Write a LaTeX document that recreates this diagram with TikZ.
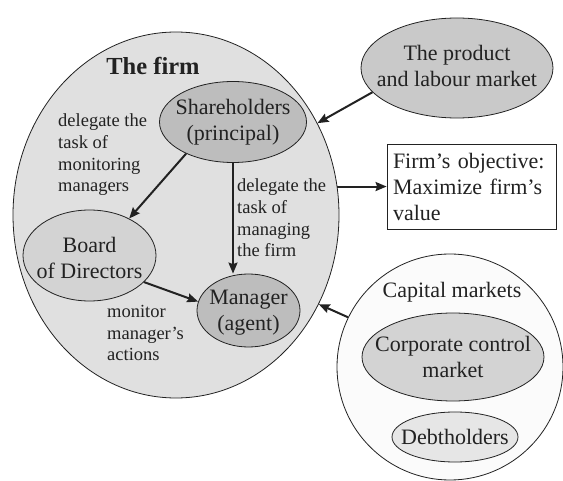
\documentclass[tikz,border=0pt]{standalone}
\usepackage{fontspec}
\setmainfont{Liberation Serif}
\usetikzlibrary{shapes.geometric,arrows.meta}

\definecolor{linie}{HTML}{222222}
\definecolor{firmgrau}{HTML}{E0E0E0}
\definecolor{dunkelgrau}{HTML}{BDBDBD}
\definecolor{mittelgrau}{HTML}{D3D3D3}
\definecolor{marktgrau}{HTML}{C9C9C9}
\definecolor{hellgrau}{HTML}{E6E6E6}
\definecolor{kapitalgrau}{HTML}{FBFBFB}

\tikzset{
	blase/.style={ellipse, draw=linie, line width=0.8pt, inner sep=0pt},
	pfeil/.style={draw=linie, line width=2pt, -{Stealth[length=11pt,width=9pt,inset=1.5pt]}},
	txt/.style={text=linie, font=\fontsize{22}{26}\selectfont, align=center, inner sep=0pt},
	notiz/.style={text=linie, font=\fontsize{18.5}{21.7}\selectfont, align=left, anchor=west, inner sep=0pt}
}

\begin{document}
\begin{tikzpicture}[x=1pt, y=-1pt]

	\useasboundingbox (0,0) rectangle (563,481);
	% Unternehmen
	\node[blase, fill=firmgrau, minimum width=326pt, minimum height=366pt] (firm) at (176,215) {};
	\node[txt, font=\fontsize{24.5}{28}\selectfont\bfseries] (firm-t) at (153,66) {The firm};
	% Aktionaere, Aufsichtsrat, Manager
	\node[blase, fill=dunkelgrau, minimum width=147pt, minimum height=81pt] (share) at (233,122) {};
	\node[txt] (share-t) at (share) {Shareholders\\(principal)};
	\node[blase, fill=mittelgrau, minimum width=133pt, minimum height=91pt] (board) at (89.5,255.5) {};
	\node[txt] (board-t) at (89.5,257.5) {Board\\of Directors};
	\node[blase, fill=dunkelgrau, minimum width=103pt, minimum height=73pt] (manager) at (248.5,310.5) {};
	\node[txt] (manager-t) at (248.5,313) {Manager\\(agent)};
	% Beschriftung der Pfeile
	\node[notiz] (n-monitor) at (58,155) {delegate the\\task of\\monitoring\\managers};
	\node[notiz] (n-manage) at (237,218) {delegate the\\task of\\managing\\the firm};
	\node[notiz] (n-actions) at (107,333) {monitor\\manager's\\actions};
	% Produkt- und Arbeitsmarkt
	\node[blase, fill=marktgrau, minimum width=192pt, minimum height=100pt] (produkt) at (457,68) {};
	\node[txt] (produkt-t) at (457,66) {The product\\and labour market};
	% Ziel
	\node[draw=linie, line width=0.8pt, fill=white, text width=157pt, inner xsep=6pt, minimum height=85pt, align=left, text=linie, font=\fontsize{22}{26}\selectfont] (ziel) at (471.5,186.5) {Firm's objective:\\Maximize firm's\\value};
	% Kapitalmarkt
	\node[circle, draw=linie, line width=0.8pt, fill=kapitalgrau, minimum size=226pt, inner sep=0pt] (kapital) at (450,367) {};
	\node[txt] (kapital-t) at (452,292) {Capital markets};
	\node[blase, fill=mittelgrau, minimum width=182pt, minimum height=88pt] (corp) at (453,357) {};
	\node[txt] (corp-t) at (corp) {Corporate control\\market};
	\node[blase, fill=hellgrau, minimum width=126pt, minimum height=50pt] (debt) at (455,437) {};
	\node[txt] (debt-t) at (debt) {Debtholders};
	% Pfeile
	\draw[pfeil] (share.214) -- (board.43);
	\draw[pfeil] (share) -- (share |- manager.north);
	\draw[pfeil] (board.-26) -- (manager.170);
	\draw[pfeil] (produkt.196) -- (firm.33);
	\draw[pfeil] (firm.10) -- (firm.10 -| ziel.west);
	\draw[pfeil] (kapital.154) -- (firm.-32);
\end{tikzpicture}
\end{document}
